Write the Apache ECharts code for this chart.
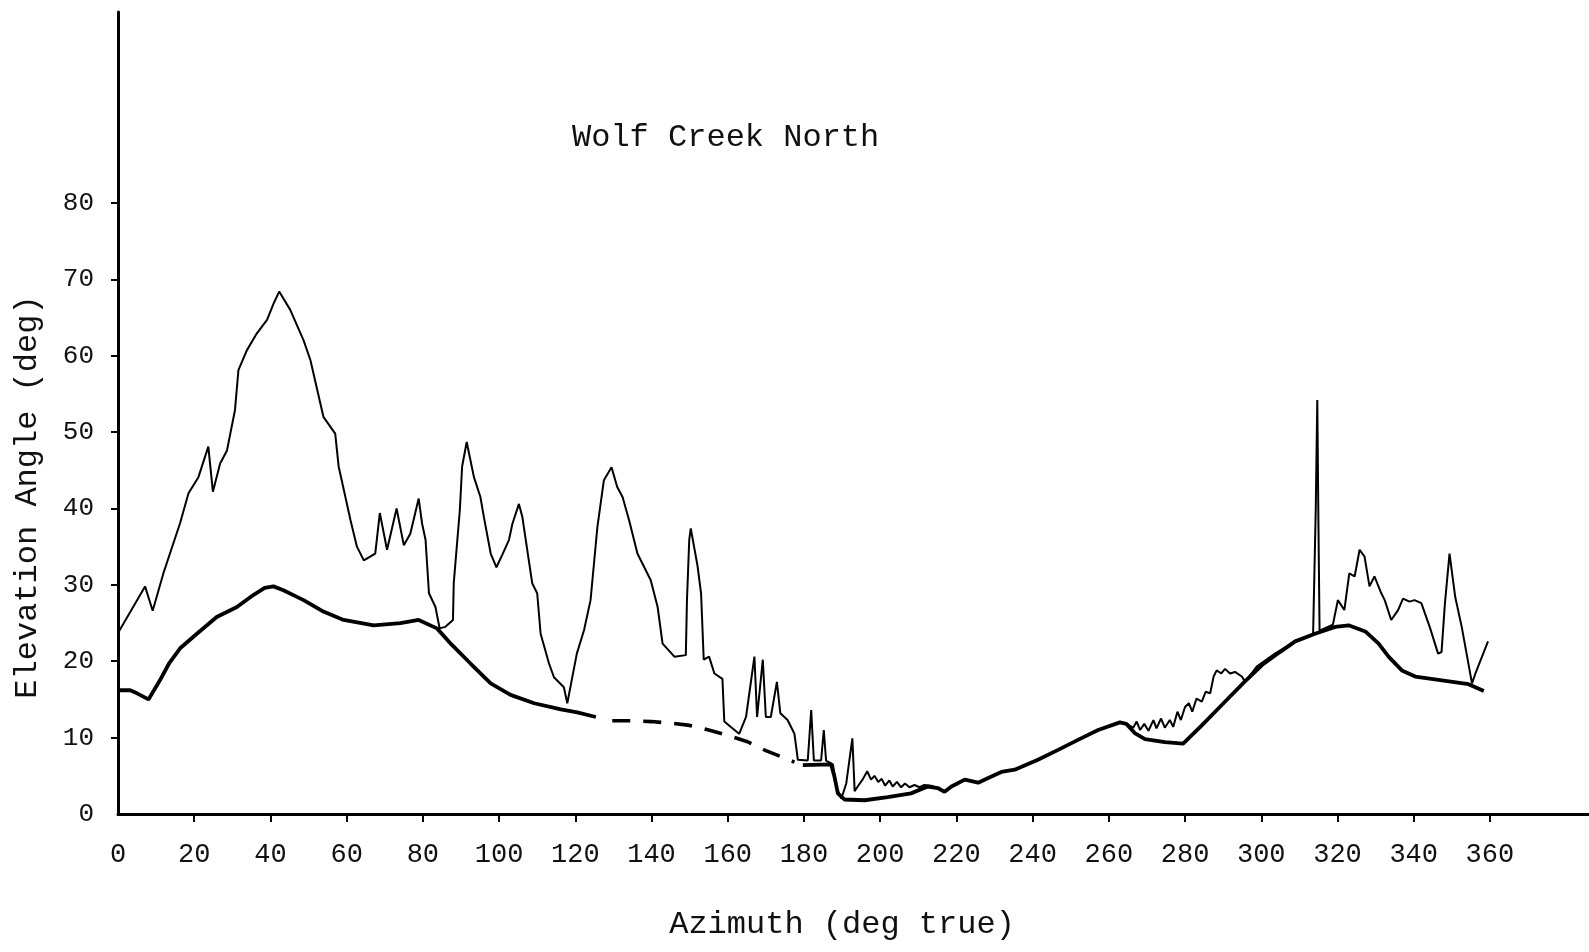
<!DOCTYPE html>
<html>
<head>
<meta charset="utf-8">
<title>Wolf Creek North</title>
<script src="https://cdn.jsdelivr.net/npm/echarts@6/dist/echarts.min.js"></script>
<style>
  html, body { margin: 0; padding: 0; background: #fff; }
  #main { width: 1589px; height: 952px; }
</style>
</head>
<body>
<div id="main"></div>
<script>
// x tick labels (azimuth, deg true) and y tick labels (elevation, deg)
const xTicks = [0, 20, 40, 60, 80, 100, 120, 140, 160, 180, 200, 220, 240, 260, 280, 300, 320, 340, 360];
const yTicks = [0, 10, 20, 30, 40, 50, 60, 70, 80];

// thin line: skyline / obstructions  [azimuth, elevation]
const skyline = [
  [0, 23.7], [7.1, 29.8], [9.1, 26.6], [11.9, 31.5], [13.7, 34.2], [16.3, 38.1], [18.5, 42], [21.1, 44.1],
  [23.7, 48.1], [24.9, 42.2], [26.8, 45.9], [28.6, 47.6], [30.7, 52.9], [31.6, 58.1], [33.8, 60.7], [36.4, 62.9],
  [39.1, 64.7], [40.8, 66.8], [42.3, 68.4], [45.2, 66], [48.7, 62], [50.5, 59.4], [53.9, 52], [57, 49.8],
  [57.9, 45.5], [61, 38.5], [62.7, 35], [64.5, 33.2], [67.5, 34.1], [68.7, 39.4], [70.6, 34.6], [73.1, 40],
  [75, 35.2], [76.7, 36.7], [78.9, 41.3], [79.8, 38], [80.7, 35.9], [81.6, 28.9], [83.3, 27.1], [84.4, 24.3],
  [85.9, 24.5], [87.9, 25.4], [88.1, 30.2], [89.7, 39.8], [90.3, 45.5], [91.5, 48.7], [93.4, 44.1], [95.1, 41.5],
  [96, 38.9], [97.8, 34.1], [99.3, 32.3], [100.8, 33.9], [102.6, 35.9], [103.5, 38], [105.2, 40.6], [106.1, 38.9],
  [107.8, 33.2], [108.7, 30.2], [110, 28.9], [110.9, 23.6], [113.1, 19.7], [114.4, 17.9], [117, 16.6], [117.9, 14.5],
  [118.9, 17.1], [120.4, 21], [122.3, 24.1], [124, 28], [124.9, 32.8], [125.8, 37.6], [127.5, 43.7], [129.5, 45.4],
  [131, 42.8], [132.4, 41.5], [134.1, 38.5], [136.3, 34.1], [139.8, 30.6], [141.6, 27.1], [142.9, 22.3], [146, 20.6],
  [149, 20.8], [149.3, 28], [149.9, 35.9], [150.3, 37.4], [152.1, 32.4], [153, 28.9], [153.7, 20.2], [155.1, 20.6],
  [156.5, 18.4], [158.6, 17.7], [159.1, 12.1], [161.3, 11.2], [163, 10.5], [164.8, 12.7], [167, 20.6], [167.7, 12.7],
  [169.2, 20.2], [170, 12.7], [171.3, 12.7], [172.9, 17.3], [173.8, 13.2], [175.7, 12.3], [177.5, 10.5], [178.4, 7.1],
  [181, 7.0], [181.9, 13.6], [182.6, 7.0], [184.5, 7.0], [185.2, 11], [185.8, 7.0], [187.6, 6.5], [188.5, 3.5],
  [189.8, 2.0], [191.1, 4.0], [192.7, 9.9], [193.3, 3.0], [194.1, 3.6], [195.5, 4.6], [196.6, 5.6], [197.6, 4.5],
  [198.5, 5.0], [199.5, 4.2], [200.4, 4.6], [201.3, 3.7], [202.4, 4.4], [203.3, 3.6], [204.4, 4.2], [205.5, 3.5],
  [206.5, 4.0], [207.7, 3.5], [209, 3.8], [210.3, 3.5], [211.6, 3.8], [213.4, 3.7], [215.1, 3.4], [216.9, 2.9],
  [218.7, 3.6], [222.2, 4.5], [225.7, 4.1], [229.2, 4.9], [231.8, 5.5], [235.3, 5.8], [241.4, 7.1], [246.7, 8.4],
  [251.9, 9.7], [257.2, 11], [262.9, 12], [264.6, 11.8], [266.4, 11.3], [267.3, 12.1], [268.2, 11], [269.3, 11.8],
  [270.4, 10.9], [271.7, 12.3], [272.5, 11.2], [273.7, 12.5], [274.7, 11.3], [276, 12.3], [276.9, 11.4], [278, 13.4],
  [278.9, 12.3], [280, 14], [281, 14.5], [281.9, 13.4], [283, 15.1], [284.4, 14.7], [285.4, 16], [286.6, 15.8],
  [287.5, 18], [288.3, 18.8], [289.5, 18.4], [290.5, 19], [291.8, 18.4], [293.1, 18.6], [294.9, 18], [295.8, 17.3],
  [298.8, 19.3], [303.6, 21], [308.9, 22.6], [313.6, 23.5], [314.3, 40], [314.7, 54.2], [315.0, 38], [315.3, 24],
  [318.8, 24.8], [320.1, 28], [321.8, 26.7], [323.1, 31.5], [324.5, 31.1], [325.8, 34.6], [327.1, 33.7], [328.4, 29.8],
  [329.7, 31.1], [331.5, 28.9], [332.4, 28], [334.1, 25.4], [335.9, 26.7], [337.2, 28.2], [338.9, 27.8], [340.2, 28],
  [342, 27.6], [344.2, 24.5], [346.4, 21], [347.3, 21.2], [348.2, 27.6], [349.4, 34.1], [350.9, 28.4], [352.6, 24.5],
  [355.3, 17.1], [356.2, 18.4], [359.5, 22.6]
];

// thick line, first solid part
const envelopeA = [
  [0, 16.2], [3.2, 16.2], [5, 15.8], [8, 15], [11, 17.5], [13.5, 19.8], [16.3, 21.7], [20.7, 23.6],
  [25.9, 25.8], [31.2, 27.1], [35.6, 28.7], [38.5, 29.6], [40.8, 29.8], [43.4, 29.3], [48.7, 28], [53.9, 26.5],
  [59.2, 25.4], [67.1, 24.7], [74.1, 25], [78.9, 25.4], [83.7, 24.3], [87.5, 22.2], [92.5, 19.7], [97.8, 17.1],
  [103, 15.6], [109.2, 14.5], [116.2, 13.7], [120.5, 13.3], [125.4, 12.7]
];
// thick line, dashed part
const envelopeDash = [
  [129.7, 12.2], [135, 12.2], [140, 12.1], [145, 11.9], [150, 11.6], [155, 11], [160, 10.3], [165, 9.5],
  [170, 8.3], [175, 7.3], [177.5, 6.8]
];
// thick line, second solid part
const envelopeB = [
  [179.7, 6.4], [187.1, 6.5], [188, 4.9], [188.9, 2.7], [190.6, 1.9], [195.9, 1.8], [202, 2.2], [208.1, 2.7],
  [212.5, 3.6], [215.1, 3.4], [216.9, 2.9], [218.7, 3.6], [222.2, 4.5], [225.7, 4.1], [229.2, 4.9], [231.8, 5.5],
  [235.3, 5.8], [241.4, 7.1], [246.7, 8.4], [251.9, 9.7], [257.2, 11], [262.9, 12], [264.6, 11.8], [266.8, 10.6],
  [269.5, 9.8], [274.7, 9.4], [279.5, 9.2], [284.4, 11.6], [289.7, 14.3], [295.4, 17.2], [300.2, 19.5], [304.9, 21.2],
  [308.9, 22.6], [314.1, 23.6], [319.4, 24.5], [322.9, 24.7], [327.3, 23.9], [330.8, 22.3], [333.4, 20.6], [336.9, 18.8],
  [340.4, 18], [347.4, 17.5], [354.4, 17], [358.4, 16.1]
];

const typeFont = "'Liberation Mono', 'DejaVu Sans Mono', monospace";

let chart = echarts.init(document.getElementById("main"));

let option = {
  backgroundColor: "#fff",
  animation: false,
  title: {
    text: "Wolf Creek North",
    left: 567,
    top: 117,
    textStyle: {
      color: "#111",
      fontFamily: typeFont,
      fontWeight: "normal",
      fontSize: 32
    }
  },
  grid: {
    left: 118,
    right: 0,
    top: 12,
    bottom: 138
  },
  xAxis: {
    type: "value",
    min: 0,
    max: 386,
    interval: 20,
    splitLine: { show: false },
    axisLine: {
      lineStyle: { color: "#000", width: 3 }
    },
    axisTick: {
      customValues: xTicks.slice(1),
      length: 8,
      lineStyle: { color: "#000", width: 2 }
    },
    axisLabel: {
      customValues: xTicks,
      margin: 27,
      color: "#111",
      fontFamily: typeFont,
      fontSize: 27
    }
  },
  yAxis: {
    type: "value",
    min: 0,
    max: 105,
    interval: 10,
    splitLine: { show: false },
    axisLine: {
      show: true,
      lineStyle: { color: "#000", width: 3 }
    },
    axisTick: {
      show: true,
      customValues: yTicks.slice(1),
      length: 7,
      lineStyle: { color: "#000", width: 2 }
    },
    axisLabel: {
      customValues: yTicks,
      margin: 24,
      color: "#111",
      fontFamily: typeFont,
      fontSize: 26
    }
  },
  graphic: [
    {
      // x axis title
      type: "text",
      x: 842,
      y: 925,
      style: {
        text: "Azimuth (deg true)",
        fill: "#111",
        font: "32px " + typeFont,
        align: "center",
        verticalAlign: "middle"
      }
    },
    {
      // y axis title, rotated
      type: "text",
      x: 28,
      y: 497,
      rotation: Math.PI / 2,
      style: {
        text: "Elevation Angle (deg)",
        fill: "#111",
        font: "32px " + typeFont,
        align: "center",
        verticalAlign: "middle"
      }
    }
  ],
  series: [
    {
      name: "skyline",
      type: "line",
      data: skyline,
      showSymbol: false,
      lineStyle: { color: "#000", width: 2 },
      z: 2
    },
    {
      name: "envelopeA",
      type: "line",
      data: envelopeA,
      showSymbol: false,
      lineStyle: { color: "#000", width: 3.8 },
      z: 3
    },
    {
      name: "envelopeDash",
      type: "line",
      data: envelopeDash,
      showSymbol: false,
      lineStyle: { color: "#000", width: 3.6, type: [18, 13] },
      z: 3
    },
    {
      name: "envelopeB",
      type: "line",
      data: envelopeB,
      showSymbol: false,
      lineStyle: { color: "#000", width: 3.8 },
      z: 3
    }
  ]
};

chart.setOption(option, true);
</script>
</body>
</html>
